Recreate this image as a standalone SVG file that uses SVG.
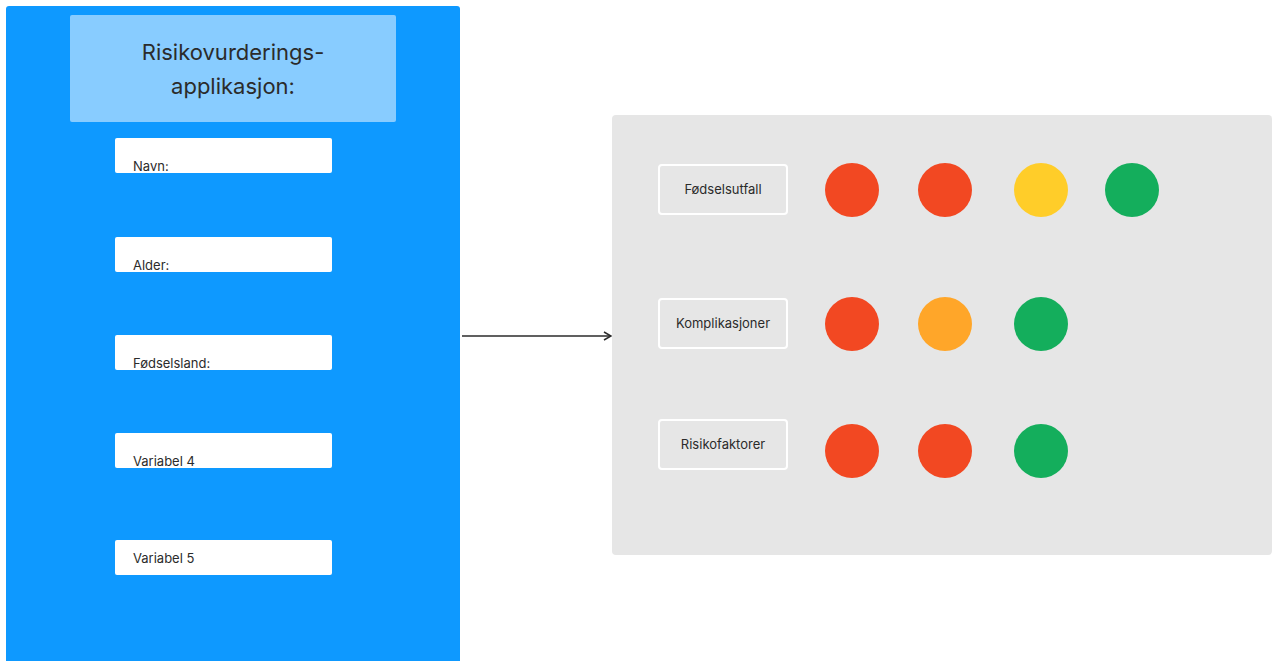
<svg xmlns="http://www.w3.org/2000/svg" width="1278" height="661" viewBox="0 0 1278 661">
<style>
.t{font-family:Inter,"Liberation Sans",sans-serif;fill:#2b2b2b}
.in{fill:#ffffff}
.lbl{fill:#e6e6e6;stroke:#ffffff;stroke-width:2}
.red{fill:#F24822}.yel{fill:#FFCD29}.grn{fill:#14AE5C}.org{fill:#FFA629}
</style>
<defs>
<marker id="arr" viewBox="0 0 10 10" refX="9" refY="5" markerWidth="10" markerHeight="10" markerUnits="userSpaceOnUse" orient="auto">
<path d="M2,1 L9,5 L2,9" fill="none" stroke="#2b2b2b" stroke-width="1.5"/>
</marker>
</defs>
<rect width="1278" height="661" fill="#ffffff"/>
<g id="app">
<rect x="6" y="6" width="454" height="665" rx="3" fill="#0E99FF"/>
</g>
<g id="title">
<rect x="70" y="15" width="326" height="107" rx="2" fill="#88CCFF"/>
<text class="t" x="233" y="60" font-size="22" text-anchor="middle">Risikovurderings-</text>
<text class="t" x="233" y="94" font-size="22" text-anchor="middle">applikasjon:</text>
</g>
<g id="navn"><rect class="in" x="115" y="138" width="217" height="35" rx="2"/><text class="t" x="133" y="171" font-size="13">Navn:</text></g>
<g id="alder"><rect class="in" x="115" y="237" width="217" height="35" rx="2"/><text class="t" x="133" y="270" font-size="13">Alder:</text></g>
<g id="fodselsland"><rect class="in" x="115" y="335" width="217" height="35" rx="2"/><text class="t" x="133" y="368" font-size="13">Fødselsland:</text></g>
<g id="var4"><rect class="in" x="115" y="433" width="217" height="35" rx="2"/><text class="t" x="133" y="466" font-size="13">Variabel 4</text></g>
<g id="var5"><rect class="in" x="115" y="540" width="217" height="35" rx="2"/><text class="t" x="133" y="563" font-size="13">Variabel 5</text></g>
<g id="result">
<rect x="612" y="115" width="660" height="440" rx="4" fill="#E6E6E6"/>
</g>
<g id="fodselsutfall"><rect class="lbl" x="659" y="165" width="128" height="49" rx="3"/><text class="t" x="723" y="194" font-size="13" text-anchor="middle">Fødselsutfall</text></g>
<g id="komplikasjoner"><rect class="lbl" x="659" y="299" width="128" height="49" rx="3"/><text class="t" x="723" y="328" font-size="13" text-anchor="middle">Komplikasjoner</text></g>
<g id="risikofaktorer"><rect class="lbl" x="659" y="420" width="128" height="49" rx="3"/><text class="t" x="723" y="449" font-size="13" text-anchor="middle">Risikofaktorer</text></g>
<g id="row1">
<circle class="red" cx="852" cy="190" r="27"/>
<circle class="red" cx="945" cy="190" r="27"/>
<circle class="yel" cx="1041" cy="190" r="27"/>
<circle class="grn" cx="1132" cy="190" r="27"/>
</g>
<g id="row2">
<circle class="red" cx="852" cy="324" r="27"/>
<circle class="org" cx="945" cy="324" r="27"/>
<circle class="grn" cx="1041" cy="324" r="27"/>
</g>
<g id="row3">
<circle class="red" cx="852" cy="451" r="27"/>
<circle class="red" cx="945" cy="451" r="27"/>
<circle class="grn" cx="1041" cy="451" r="27"/>
</g>
<g id="connectors">
<line x1="462" y1="336" x2="611" y2="336" stroke="#2b2b2b" stroke-width="1.5" marker-end="url(#arr)"/>
</g>
</svg>
